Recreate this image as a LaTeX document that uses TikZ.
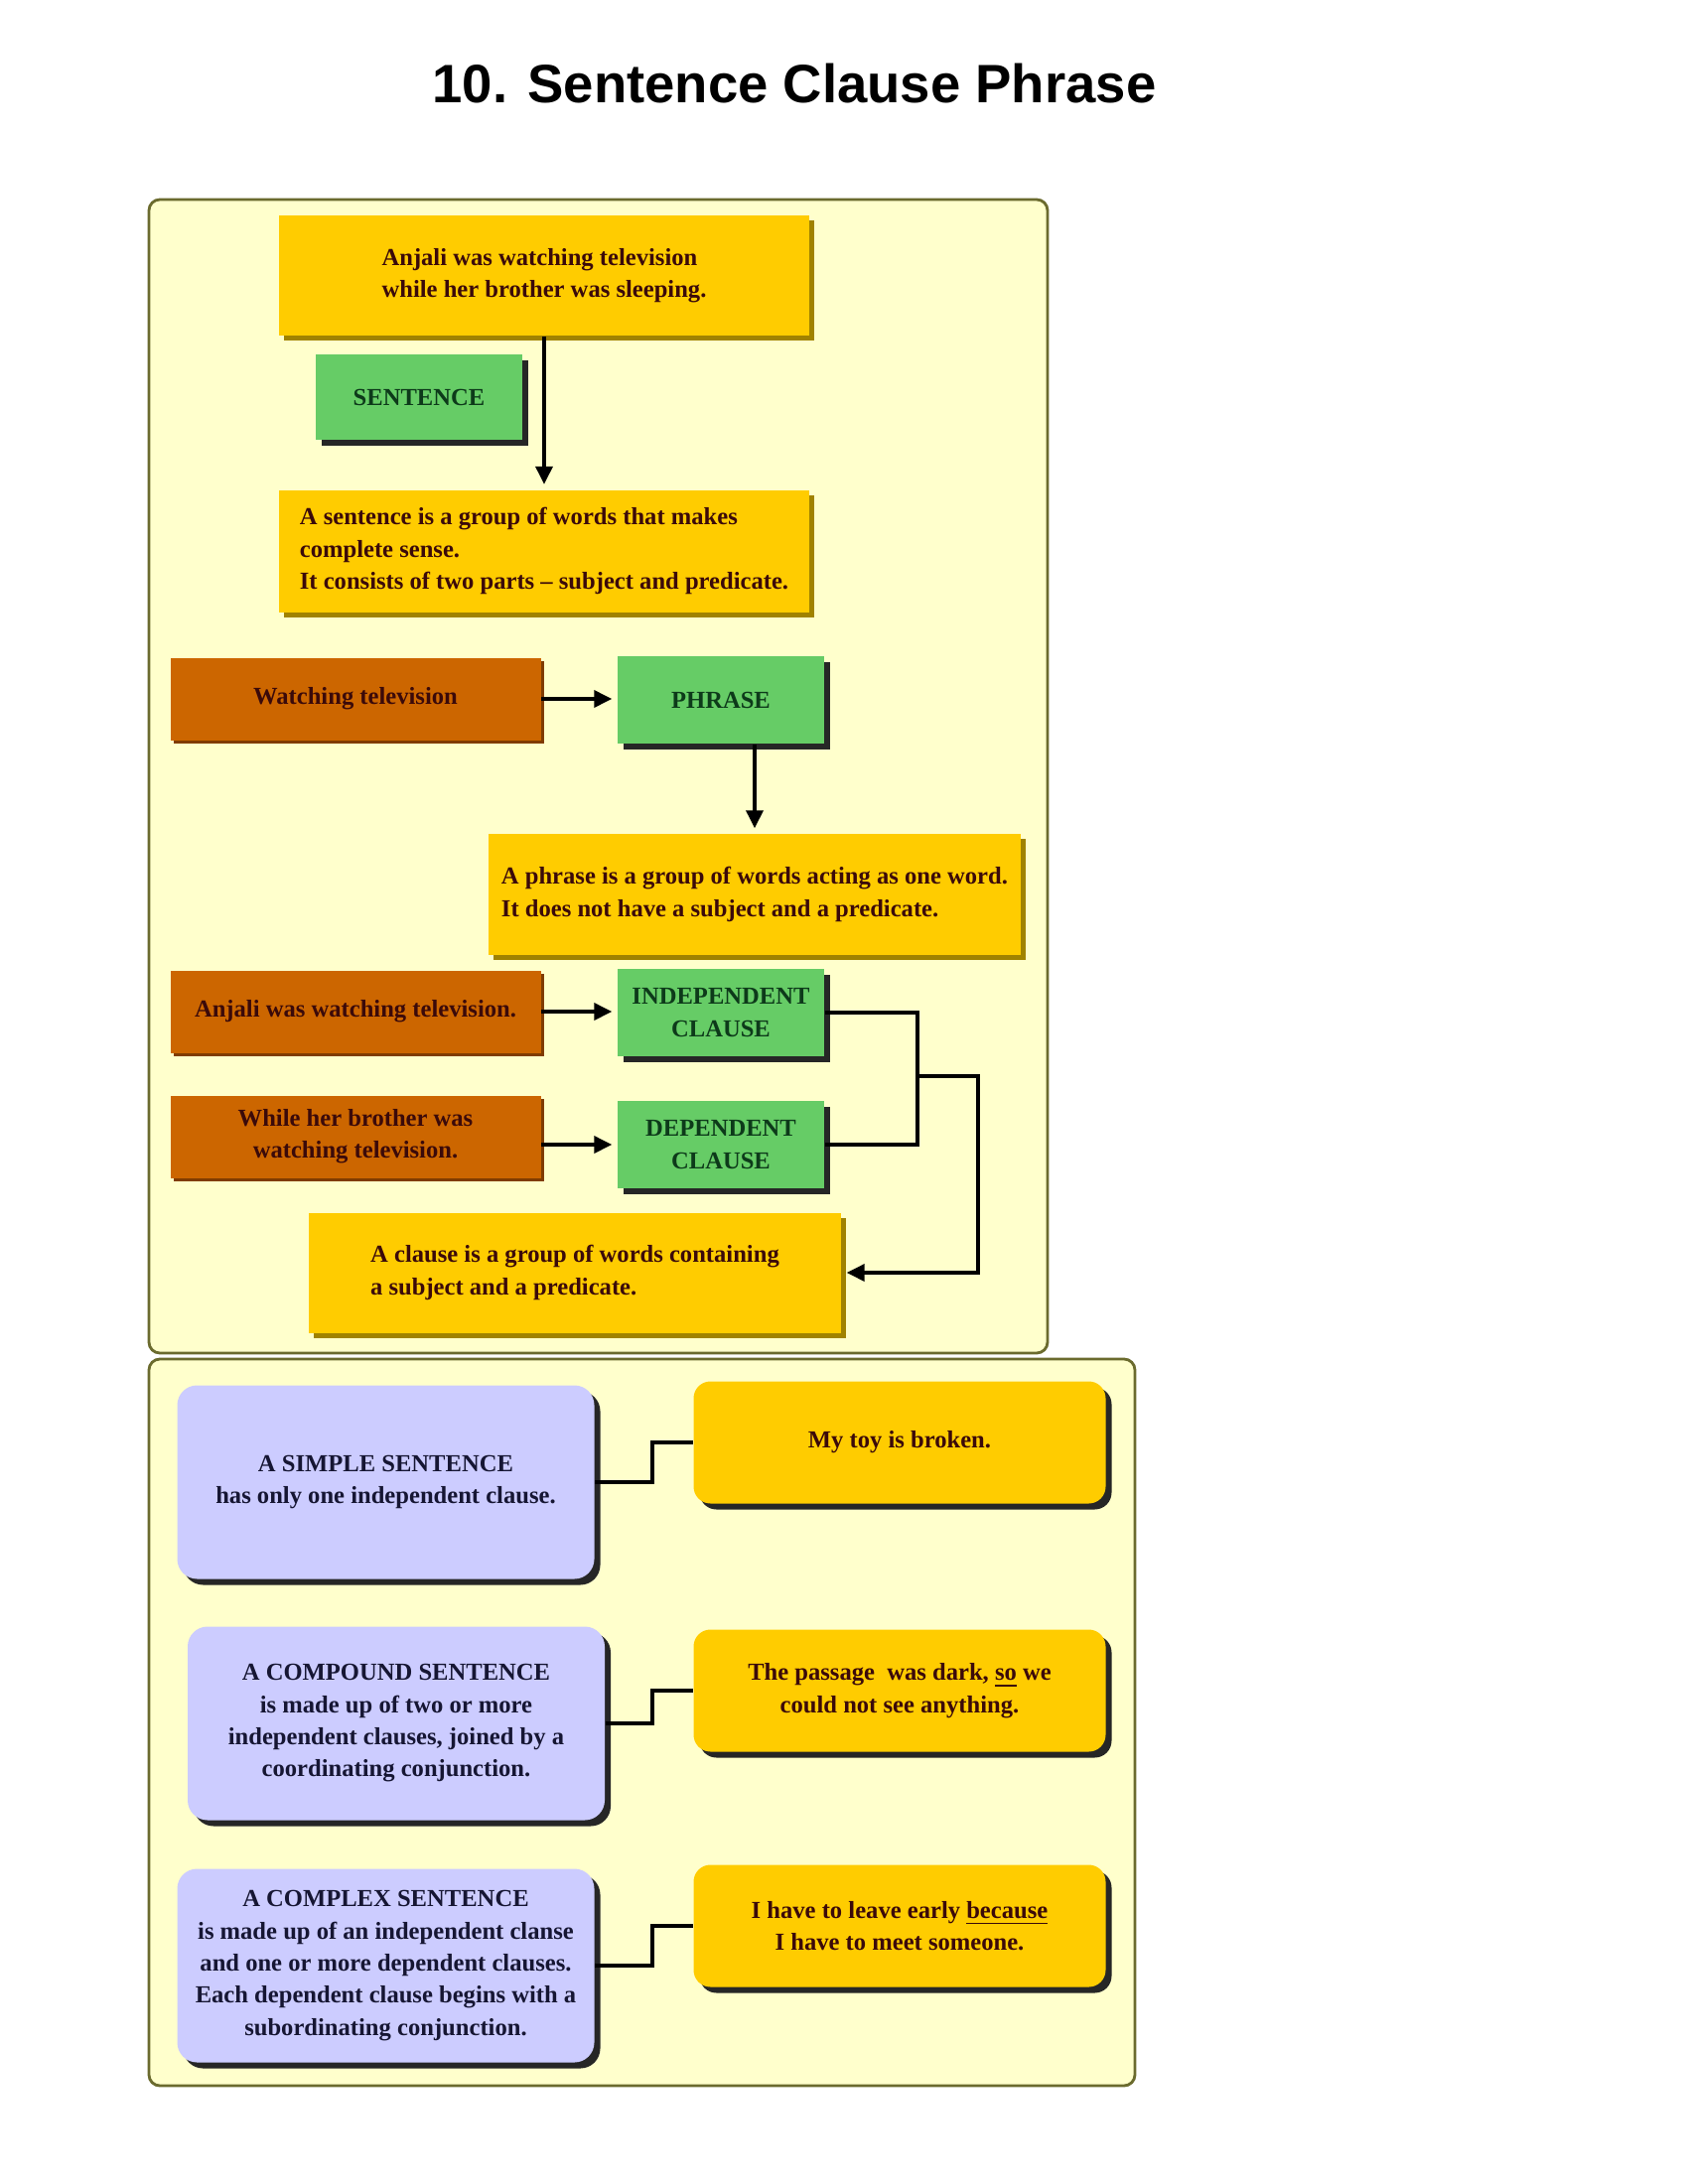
\documentclass[tikz,border=0pt]{standalone}
\usepackage{fontspec}
\setmainfont{Liberation Serif}
\newfontfamily\titlefont{Liberation Sans}
\usepackage{tikz}
\usetikzlibrary{arrows.meta,positioning,shadows,calc}
\definecolor{SCGold}    {HTML}{FFCC00}
\definecolor{SCGoldDk}  {HTML}{A08200}
\definecolor{SCGreen}   {HTML}{66CC66}
\definecolor{SCOrange}  {HTML}{CC6600}
\definecolor{SCOrangeDk}{HTML}{803C00}
\definecolor{SCLilac}   {HTML}{CCCCFF}
\definecolor{SCPanel}   {HTML}{FFFFCC}
\definecolor{SCOlive}   {HTML}{6B6B2E}
\definecolor{SCInk}     {HTML}{3B0A0A}
\definecolor{SCInkGreen}{HTML}{0D3A1A}
\definecolor{SCInkBlue} {HTML}{161633}

\begin{document}
\begin{tikzpicture}[
    txt/.style={font=\fontsize{7}{9.2}\selectfont\bfseries,inner sep=0pt},
    goldbox/.style={txt,fill=SCGold,text=SCInk,align=left,minimum width=5.34cm,
      drop shadow={shadow xshift=0.5mm,shadow yshift=-0.5mm,fill=SCGoldDk,opacity=1}},
    termbox/.style={txt,fill=SCGreen,text=SCInkGreen,align=center,minimum width=2.08cm,minimum height=0.88cm,
      drop shadow={shadow xshift=0.6mm,shadow yshift=-0.6mm,fill=black!85,opacity=1}},
    quotebox/.style={txt,fill=SCOrange,text=SCInk,align=center,minimum width=3.73cm,minimum height=0.83cm,
      drop shadow={shadow xshift=0.3mm,shadow yshift=-0.3mm,fill=SCOrangeDk,opacity=1}},
    lilacbox/.style={txt,fill=SCLilac,text=SCInkBlue,align=center,rounded corners=2mm,
      minimum width=4.2cm,minimum height=1.95cm,
      drop shadow={shadow xshift=0.6mm,shadow yshift=-0.6mm,fill=black!85,opacity=1}},
    examplebox/.style={txt,fill=SCGold,text=SCInk,align=center,rounded corners=1.7mm,
      minimum width=4.15cm,minimum height=1.23cm,
      drop shadow={shadow xshift=0.6mm,shadow yshift=-0.6mm,fill=black!85,opacity=1}},
    conn/.style={line width=1pt,draw=black},
    arr/.style={conn,-{Triangle[length=1.8mm,width=1.7mm]},shorten >=0.5mm}
  ]
    \fill[white] (0,0) rectangle (17,-22);
    \useasboundingbox (0,0) rectangle (17,-22);
    \node[font=\titlefont\fontsize{15.5}{18}\selectfont\bfseries] (title) at (8.0,-0.84) {10. Sentence Clause Phrase};
    % panels
    \draw[SCOlive,fill=SCPanel,line width=0.8pt,rounded corners=1.1mm] (1.50,-2.01) rectangle (10.55,-13.63);
    \draw[SCOlive,fill=SCPanel,line width=0.8pt,rounded corners=1.1mm] (1.50,-13.69) rectangle (11.43,-21.01);
    % sentence
    \node[goldbox,minimum height=1.21cm] (example) at (5.48,-2.78) {Anjali was watching television\\while her brother was sleeping.};
    \node[termbox,minimum height=0.86cm] (sentence) at (4.22,-4.00) {SENTENCE};
    \node[goldbox,minimum height=1.23cm] (sentdef) at (5.48,-5.55) {A sentence is a group of words that makes\\complete sense.\\It consists of two parts -- subject and predicate.};
    \draw[arr] (example.south) -- (sentdef.north);
    % phrase
    \node[quotebox] (phrasetxt) at (3.58,-7.04) {Watching television};
    \node[termbox] (phrase) at (7.26,-7.05) {PHRASE};
    \node[goldbox,minimum width=5.36cm,minimum height=1.22cm] (phrasedef) at (7.60,-9.01) {A phrase is a group of words acting as one word.\\It does not have a subject and a predicate.};
    \draw[arr] (phrasetxt.east) -- (phrasetxt.east -| phrase.west);
    \draw[arr] (phrasedef.north |- phrase.south) -- (phrasedef.north);
    % clauses
    \node[quotebox] (indeptxt) at (3.58,-10.19) {Anjali was watching television.};
    \node[termbox] (indep) at (7.26,-10.20) {INDEPENDENT\\CLAUSE};
    \node[quotebox] (deptxt) at (3.58,-11.45) {While her brother was\\watching television.};
    \node[termbox] (dep) at (7.26,-11.53) {DEPENDENT\\CLAUSE};
    \node[goldbox,minimum width=5.36cm,minimum height=1.21cm] (clausedef) at (5.79,-12.82) {A clause is a group of words containing\\a subject and a predicate.};
    \draw[arr] (indeptxt.east) -- (indeptxt.east -| indep.west);
    \draw[arr] (deptxt.east |- dep.west) -- (dep.west);
    \coordinate (merge) at (9.24,-10.84);
    \coordinate (turn) at (9.85,-10.84);
    \draw[conn] (indep.east) -| (merge) |- (dep.east);
    \draw[arr] (merge) -- (turn) |- (clausedef.east);
    % kinds of sentences
    \foreach \nm/\px/\py/\ey/\lbl/\ex in {
      simple/3.885/-14.93/-14.53/{A SIMPLE SENTENCE\\has only one independent clause.}/{My toy is broken.},
      compound/3.99/-17.36/-17.03/{A COMPOUND SENTENCE\\is made up of two or more\\independent clauses, joined by a\\coordinating conjunction.}/{The passage\ \ was dark, \underline{so} we\\could not see anything.},
      complex/3.885/-19.80/-19.40/{A COMPLEX SENTENCE\\is made up of an independent clanse\\and one or more dependent clauses.\\Each dependent clause begins with a\\subordinating conjunction.}/{I have to leave early \underline{because}\\I have to meet someone.}%
    }{
      \node[lilacbox] (\nm) at (\px,\py) {\lbl};
      \node[examplebox] (\nm-ex) at (9.06,\ey) {\ex};
      \draw[conn] (\nm.east) -| ([xshift=-4.1mm]\nm-ex.west) -- (\nm-ex.west);
    }
  \end{tikzpicture}
\end{document}
